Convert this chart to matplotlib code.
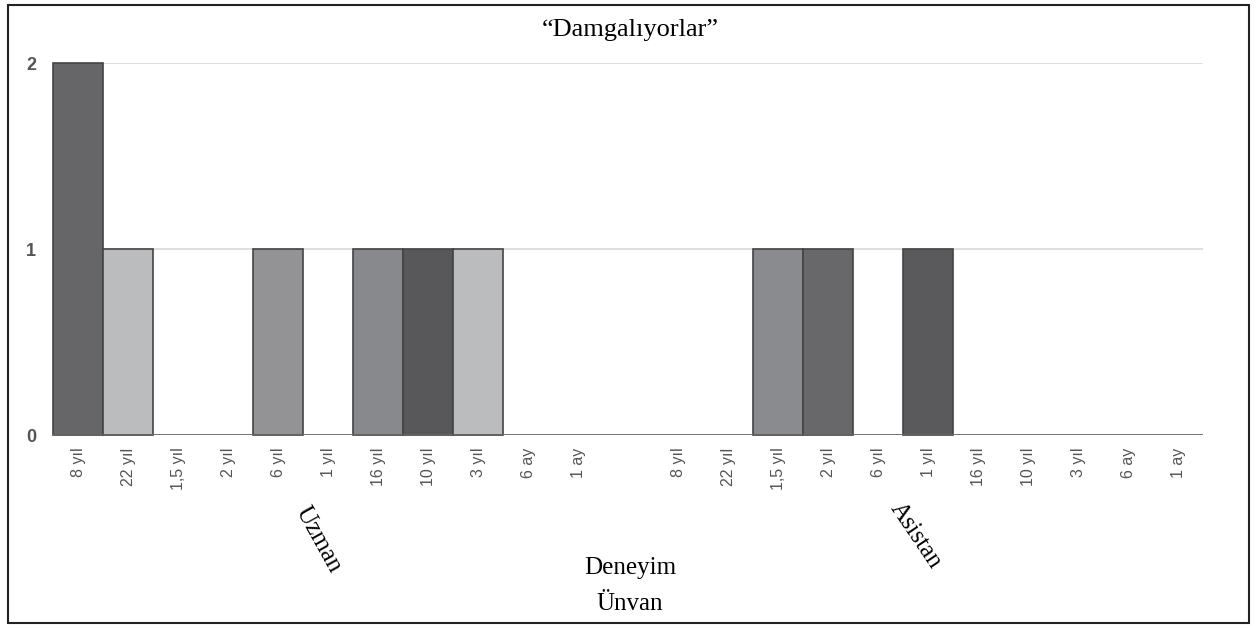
import matplotlib
matplotlib.use("Agg")
from matplotlib import pyplot as plt
from matplotlib.patches import Rectangle

# categories (same list for both groups)
labels = ["8 yıl", "22 yıl", "1,5 yıl", "2 yıl", "6 yıl", "1 yıl",
          "16 yıl", "10 yıl", "3 yıl", "6 ay", "1 ay"]
groups = ["Uzman", "Asistan"]

# counts per group
uzman = [2, 1, 0, 0, 1, 0, 1, 1, 1, 0, 0]
asistan = [0, 0, 1, 1, 0, 1, 0, 0, 0, 0, 0]

colors = ["#666668", "#bbbcbe", "#8a8b8e", "#68686a", "#939396", "#5a5a5c",
          "#88898c", "#58585a", "#bbbcbe", "#8a8b8e", "#68686a"]

fig = plt.figure(figsize=(12.57, 6.28), dpi=100)
fig.patch.set_facecolor("white")
ax = fig.add_axes([53 / 1257, 193 / 628, 1150 / 1257, 372 / 628])

n = len(labels)
xpos = []
xlab = []
# left group 0..10, gap, right group 12..22
for g, vals in enumerate([uzman, asistan]):
    start = g * (n + 1)
    for i in range(n):
        x = start + i
        xpos.append(x)
        xlab.append(labels[i])
        if vals[i] > 0:
            ax.bar(x, vals[i], width=1.0, color=colors[i], edgecolor="#444446",
                   linewidth=1.2, clip_on=False, zorder=3)

ax.set_xlim(-0.5, 2 * n + 0.5)
ax.set_ylim(0, 2)
ax.set_yticks([0, 1, 2])
ax.set_yticklabels(["0", "1", "2"], fontsize=13, color="#555555",
                   family="Liberation Sans", fontweight="bold")
ax.set_xticks(xpos)
ax.set_xticklabels(xlab, rotation=90, fontsize=11.5, color="#555555",
                   family="Liberation Sans")
ax.tick_params(axis="both", length=0)
ax.tick_params(axis="x", pad=9)
ax.tick_params(axis="y", pad=12)

for v in [1, 2]:
    ax.axhline(v, color="#d8d8d8", linewidth=1.2, zorder=1)
ax.axhline(0, color="#666666", linewidth=2, zorder=4)

for s in ax.spines.values():
    s.set_visible(False)
ax.set_facecolor("white")

# group labels (rotated, serif)
ax.text(4.8, -0.565, groups[0], rotation=-61, fontsize=18, family="Liberation Serif",
        ha="center", va="center", transform=ax.transData)
ax.text(16.75, -0.54, groups[1], rotation=-56, fontsize=18, family="Liberation Serif",
        ha="center", va="center", transform=ax.transData)

fig.text(630 / 1257, 1 - 30 / 628, "\u201cDamgalıyorlar\u201d", fontsize=19,
         family="Liberation Serif", ha="center", va="center")
fig.text(630 / 1257, 1 - 568 / 628, "Deneyim", fontsize=18,
         family="Liberation Serif", ha="center", va="center")
fig.text(630 / 1257, 1 - 604 / 628, "Ünvan", fontsize=18,
         family="Liberation Serif", ha="center", va="center")

# outer frame
fig.patches.append(Rectangle((8 / 1257, 5 / 628), 1241 / 1257, 618 / 628,
                             transform=fig.transFigure, fill=False,
                             edgecolor="#222222", linewidth=1.5))

fig.savefig("out.png", dpi=100)
